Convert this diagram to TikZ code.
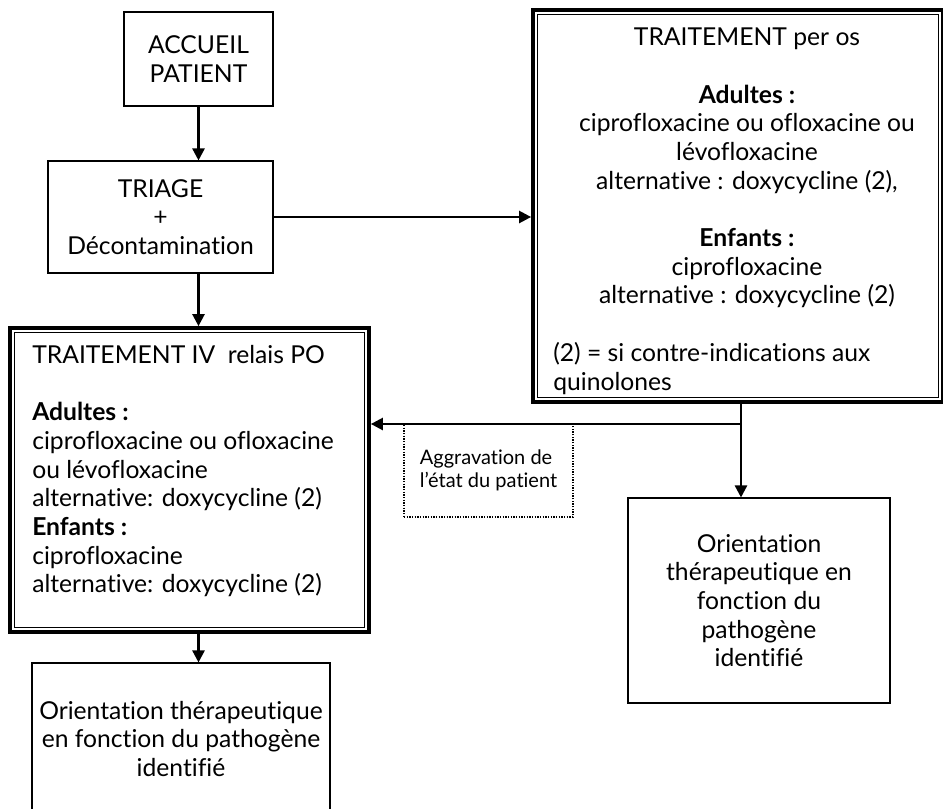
\documentclass[tikz,border=0pt]{standalone}
\usepackage{fontspec}
\setmainfont[Ligatures=NoCommon]{Lato}
\usetikzlibrary{arrows.meta}
\newcommand{\bodysize}{\fontsize{18.5}{21.5}\selectfont}
\newcommand{\smallsize}{\fontsize{15}{17.6}\selectfont}

\begin{document}
\begin{tikzpicture}[x=0.75pt,y=0.75pt,yscale=-1,xscale=1,
    box/.style={draw, line width=0.8pt, align=center, font=\bodysize, inner sep=0pt},
    dblbox/.style={draw, line width=2.8pt, inner sep=0pt},
    innerline/.style={draw, line width=1pt, inner sep=0pt},
    txt/.style={font=\bodysize, inner sep=0pt},
    flow/.style={line width=1.8pt, -{Triangle[length=9pt,width=9pt]}}]
    \useasboundingbox (0,0) rectangle (943,808);
    
    % Text Node
    \node[box, minimum width=111.75pt, minimum height=70.5pt] (accueil) at (198.5,59) {ACCUEIL\\PATIENT};
    % Text Node
    \node[box, minimum width=168.75pt, minimum height=84pt] (triage) at (160.5,217) {TRIAGE\\+\\Décontamination};
    % Double box
    \node[dblbox, minimum width=307.5pt, minimum height=294pt] (os) at (738,206) {};
    \node[innerline, minimum width=300.75pt, minimum height=287.25pt] (osin) at (os.center) {};
    \node[txt, align=center, anchor=north] (ostext) at (747,28) {TRAITEMENT per os\\[21.5pt]\textbf{Adultes :}\\ciprofloxacine ou ofloxacine ou\\lévofloxacine\\alternative : doxycycline (2),\\[21.5pt]\textbf{Enfants :}\\ciprofloxacine\\alternative : doxycycline (2)};
    \node[txt, align=left, anchor=north west] (osnote) at (553,342) {(2) = si contre-indications aux\\quinolones};
    % Double box
    \node[dblbox, minimum width=269.25pt, minimum height=228pt] (iv) at (189.5,480) {};
    \node[innerline, minimum width=262.5pt, minimum height=221.25pt] (ivin) at (iv.center) {};
    \node[txt, align=left, anchor=north west] (ivtext) at (32,345) {TRAITEMENT IV~~relais PO\\[21.5pt]\textbf{Adultes :}\\ciprofloxacine ou ofloxacine\\ou lévofloxacine\\alternative: doxycycline (2)\\\textbf{Enfants :}\\ciprofloxacine\\alternative: doxycycline (2)};
    % Text Node
    \node[draw, densely dotted, line width=1pt, minimum width=126.75pt, minimum height=69.75pt, align=left, font=\smallsize, inner sep=0pt] (aggrav) at (488.5,470.5) {Aggravation de\\l’état du patient};
    % Text Node
    \node[box, minimum width=196.5pt, minimum height=153.75pt] (orientR) at (759,600.5) {Orientation\\thérapeutique en\\fonction du\\pathogène\\identifié};
    % Text Node
    \node[box, minimum width=223.5pt, minimum height=114pt] (orientL) at (181,739) {Orientation thérapeutique\\en fonction du pathogène\\identifié};
    
    % Connection
    \draw[flow] (accueil.south) -- (accueil.south |- triage.north);
    % Connection
    \draw[flow] (triage.east) -- (triage.east -| os.west);
    % Connection
    \draw[flow] (accueil.south |- triage.south) -- (accueil.south |- iv.north);
    % Connection
    \draw[flow] (accueil.south |- iv.south) -- (accueil.south |- orientL.north);
    % Connection
    \coordinate (split) at (741,424);
    \draw[line width=1.8pt] (split |- os.south) -- (split);
    \draw[flow] (split) -- (split |- orientR.north);
    \draw[flow] (split) -- (split -| iv.east);
    
\end{tikzpicture}
\end{document}
